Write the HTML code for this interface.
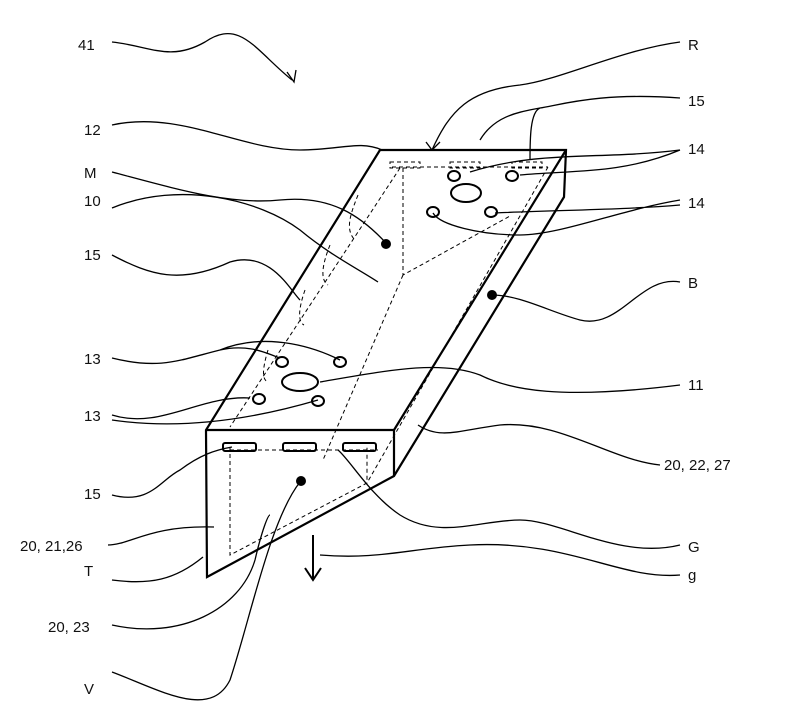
<!DOCTYPE html>
<html><head><style>body{margin:0;background:#fff}text{font-family:"Liberation Sans",sans-serif;font-size:15px;fill:#111}</style></head><body>
<svg width="800" height="715" viewBox="0 0 800 715" xmlns="http://www.w3.org/2000/svg">
<g fill="none" stroke="#000" stroke-width="1.3">
<path d="M112,42 C150,46 170,62 205,42 C240,18 255,50 292,80"/>
<path d="M287,72 L294,82 L296,70" />
<path d="M112,125 C180,110 240,150 300,150 C340,150 360,140 382,150"/>
<path d="M112,172 C180,190 230,205 280,200 C330,195 360,215 386,243"/>
<path d="M112,208 C180,180 260,200 300,230 C330,255 360,270 378,282"/>
<path d="M112,255 C150,275 180,285 230,262 C270,250 290,290 300,300"/>
<path d="M112,358 C160,370 180,360 220,350 C250,343 270,355 280,358 M220,350 C270,330 320,350 340,360"/>
<path d="M112,415 C160,430 200,395 250,398 M112,420 C180,430 250,420 318,400"/>
<path d="M112,495 C150,505 160,480 180,470 C200,455 215,450 232,447"/>
<path d="M108,545 C130,545 150,525 214,527"/>
<path d="M112,580 C150,585 175,580 203,557"/>
<path d="M112,625 C180,640 240,610 255,560 C262,530 268,515 270,515"/>
<path d="M112,672 C160,690 210,720 230,680 C250,620 270,520 300,482"/>
<path d="M680,42 C620,50 560,80 520,85 C470,90 450,110 432,150"/>
<path d="M426,142 L432,150 L440,142"/>
<path d="M680,98 C600,92 560,105 540,108 C520,112 495,115 480,140 M540,108 C530,112 530,140 530,160"/>
<path d="M680,150 C600,160 540,150 470,172 M680,150 C620,175 570,170 520,175"/>
<path d="M680,200 C620,210 560,235 520,235 C480,235 440,225 433,213 M495,213 C560,210 620,210 680,205"/>
<path d="M680,282 C640,275 620,330 580,320 C550,312 520,295 492,295"/>
<path d="M680,385 C560,400 510,390 480,375 C440,360 390,370 320,382"/>
<path d="M660,465 C610,460 560,420 500,425 C460,430 440,440 418,425"/>
<path d="M680,545 C620,560 560,520 520,520 C480,520 440,540 400,515 C370,495 350,460 338,450"/>
<path d="M680,575 C620,580 570,540 470,545 C410,548 380,560 320,555"/>
<path d="M313,535 L313,578 M305,568 L313,580 L321,568" stroke-width="2"/>
<g stroke-width="2.2">
<path d="M380,150 L566,150 L564,197 L394,476 L207,577 L206,430 Z"/>
<path d="M206,430 L394,430 L394,476 M394,430 L566,150"/>
</g>
<g stroke-dasharray="4,3" stroke-width="1">
<path d="M392,167 L548,167 M403,168 L403,275 L510,216 M403,275 L323,460 M400,168 L230,427 M548,167 L367,483 M230,447 L230,555 L367,483 L367,447 M230,450 L378,450"/>
<rect x="390" y="162" width="30" height="6"/><rect x="450" y="162" width="30" height="6"/><rect x="512" y="162" width="30" height="6"/>
<path d="M358,195 C350,215 345,230 355,240 M330,245 C322,265 320,280 328,285 M305,290 C298,310 298,322 304,325 M268,350 C262,370 262,380 268,382"/>
</g>
<g stroke-width="2">
<ellipse cx="454" cy="176" rx="6" ry="5"/><ellipse cx="512" cy="176" rx="6" ry="5"/><ellipse cx="466" cy="193" rx="15" ry="9"/>
<ellipse cx="433" cy="212" rx="6" ry="5"/><ellipse cx="491" cy="212" rx="6" ry="5"/>
<ellipse cx="282" cy="362" rx="6" ry="5"/><ellipse cx="340" cy="362" rx="6" ry="5"/><ellipse cx="300" cy="382" rx="18" ry="9"/>
<ellipse cx="259" cy="399" rx="6" ry="5"/><ellipse cx="318" cy="401" rx="6" ry="5"/>
<rect x="223" y="443" width="33" height="8" rx="2"/><rect x="283" y="443" width="33" height="8" rx="2"/><rect x="343" y="443" width="33" height="8" rx="2"/>
</g>
</g>
<g fill="#000"><circle cx="386" cy="244" r="5"/><circle cx="492" cy="295" r="5"/><circle cx="301" cy="481" r="5"/></g>
<text x="78" y="50">41</text><text x="84" y="135">12</text><text x="84" y="178">M</text><text x="84" y="206">10</text>
<text x="84" y="260">15</text><text x="84" y="364">13</text><text x="84" y="421">13</text><text x="84" y="499">15</text>
<text x="20" y="551">20, 21,26</text><text x="84" y="576">T</text><text x="48" y="632">20, 23</text><text x="84" y="694">V</text>
<text x="688" y="50">R</text><text x="688" y="106">15</text><text x="688" y="154">14</text><text x="688" y="208">14</text>
<text x="688" y="288">B</text><text x="688" y="390">11</text><text x="664" y="470">20, 22, 27</text><text x="688" y="552">G</text><text x="688" y="580">g</text>
</svg>
</body></html>
